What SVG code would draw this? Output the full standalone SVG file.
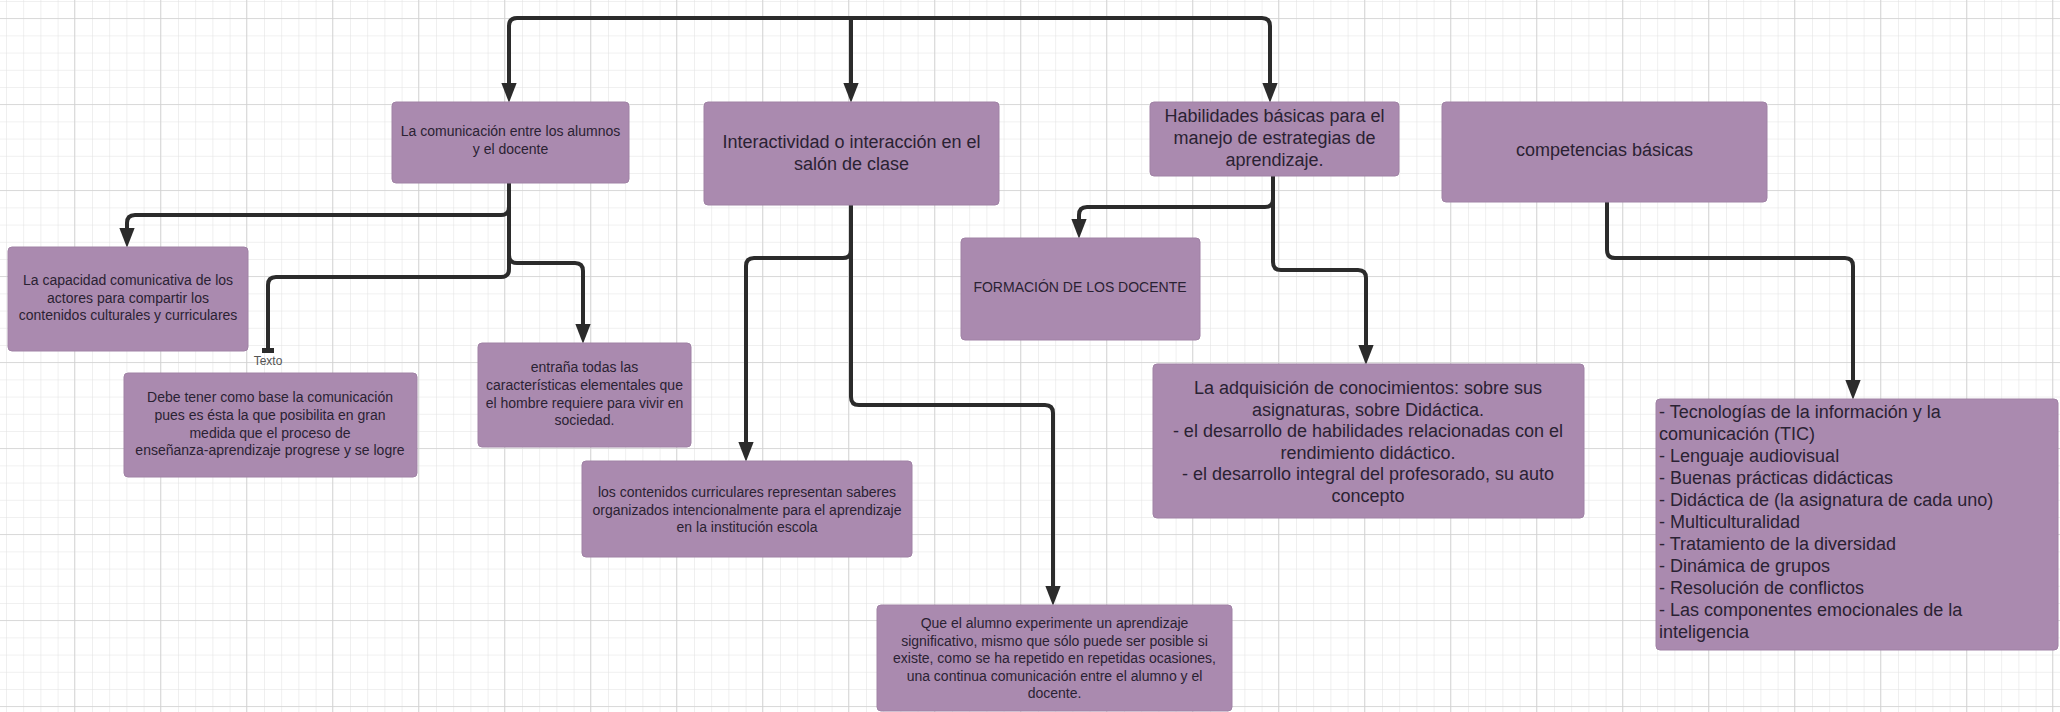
<svg xmlns="http://www.w3.org/2000/svg" width="2060" height="712" viewBox="0 0 2060 712">
<defs>
<pattern id="minor" width="17.2" height="17.2" patternUnits="userSpaceOnUse" x="6" y="1">
<path d="M0,0 H17.2 M0,0 V17.2" fill="none" stroke="#e1e1e1" stroke-width="1"/>
</pattern>
<pattern id="major" width="86" height="86" patternUnits="userSpaceOnUse" x="74" y="18">
<path d="M0,0 H86 M0,0 V86" fill="none" stroke="#d2d2d2" stroke-width="1.5"/>
</pattern>
<marker id="arr" markerUnits="userSpaceOnUse" markerWidth="20" markerHeight="16" viewBox="0 0 18 14" refX="12" refY="7" orient="auto">
<path d="M0,0 L18,7 L0,14 z" fill="#2b2b2b"/>
</marker>
</defs>
<style>
.box{fill:#aa8aaf;stroke:#a082a5;stroke-width:1}
.t{font-family:"Liberation Sans",Arial,sans-serif;fill:#2a2233;text-anchor:middle}
.s{font-size:14px}
.b{font-size:18px}
.l{text-anchor:start}
.c{fill:none;stroke:#2b2b2b;stroke-width:4;stroke-linejoin:round}
.lbl{font-family:"Liberation Sans",Arial,sans-serif;font-size:12px;fill:#555555;text-anchor:middle}
</style>
<rect width="2060" height="712" fill="#ffffff"/>
<rect width="2060" height="712" fill="url(#minor)"/>
<rect width="2060" height="712" fill="url(#major)"/>

<g id="connectors">
<path class="c" d="M851,18 H517 Q509,18 509,26 V96" marker-end="url(#arr)"/>
<path class="c" d="M851,18 V96" marker-end="url(#arr)"/>
<path class="c" d="M851,18 H1262 Q1270,18 1270,26 V96" marker-end="url(#arr)"/>
<path class="c" d="M509,183 V207 Q509,215 501,215 H135 Q127,215 127,223 V241" marker-end="url(#arr)"/>
<path class="c" d="M509,183 V269 Q509,277 501,277 H276 Q268,277 268,285 V350"/>
<rect x="262" y="348" width="12" height="5" fill="#2b2b2b"/>
<path class="c" d="M509,255 Q509,263 517,263 H575 Q583,263 583,271 V337" marker-end="url(#arr)"/>
<path class="c" d="M851,205 V250 Q851,258 843,258 H754 Q746,258 746,266 V455" marker-end="url(#arr)"/>
<path class="c" d="M851,205 V397 Q851,405 859,405 H1045 Q1053,405 1053,413 V599" marker-end="url(#arr)"/>
<path class="c" d="M1273,176 V199 Q1273,207 1265,207 H1087 Q1079,207 1079,215 V232" marker-end="url(#arr)"/>
<path class="c" d="M1273,176 V262 Q1273,270 1281,270 H1358 Q1366,270 1366,278 V358" marker-end="url(#arr)"/>
<path class="c" d="M1607,202 V250 Q1607,258 1615,258 H1845 Q1853,258 1853,266 V393" marker-end="url(#arr)"/>
<text class="lbl" x="268" y="365">Texto</text>
</g>

<g id="n1">
<rect class="box" x="392" y="102" width="237" height="81" rx="4"/>
<text class="t s" x="510.5" y="136">La comunicación entre los alumnos</text>
<text class="t s" x="510.5" y="154">y el docente</text>
</g>
<g id="n2">
<rect class="box" x="704" y="102" width="295" height="103" rx="4"/>
<text class="t b" x="851.5" y="148">Interactividad o interacción en el</text>
<text class="t b" x="851.5" y="170">salón de clase</text>
</g>
<g id="n3">
<rect class="box" x="1150" y="102" width="249" height="74" rx="4"/>
<text class="t b" x="1274.5" y="122">Habilidades básicas para el</text>
<text class="t b" x="1274.5" y="144">manejo de  estrategias de</text>
<text class="t b" x="1274.5" y="166">aprendizaje.</text>
</g>
<g id="n4">
<rect class="box" x="1442" y="102" width="325" height="100" rx="4"/>
<text class="t b" x="1604.5" y="156">competencias básicas</text>
</g>
<g id="n5">
<rect class="box" x="8" y="247" width="240" height="104" rx="4"/>
<text class="t s" x="128" y="285">La capacidad comunicativa de los</text>
<text class="t s" x="128" y="303">actores para compartir los</text>
<text class="t s" x="128" y="320">contenidos culturales y curriculares</text>
</g>
<g id="n6">
<rect class="box" x="124" y="373" width="293" height="104" rx="4"/>
<text class="t s" x="270" y="402">Debe tener como base la comunicación</text>
<text class="t s" x="270" y="420">pues es ésta la que posibilita en gran</text>
<text class="t s" x="270" y="438">medida que el proceso de</text>
<text class="t s" x="270" y="455">enseñanza-aprendizaje progrese y se logre</text>
</g>
<g id="n7">
<rect class="box" x="478" y="343" width="213" height="104" rx="4"/>
<text class="t s" x="584.5" y="372">entraña todas las</text>
<text class="t s" x="584.5" y="390">características elementales que</text>
<text class="t s" x="584.5" y="408">el hombre requiere para vivir en</text>
<text class="t s" x="584.5" y="425">sociedad.</text>
</g>
<g id="n8">
<rect class="box" x="582" y="461" width="330" height="96" rx="4"/>
<text class="t s" x="747" y="497">los contenidos curriculares representan saberes</text>
<text class="t s" x="747" y="515">organizados intencionalmente para el aprendizaje</text>
<text class="t s" x="747" y="532">en la institución escola</text>
</g>
<g id="n9">
<rect class="box" x="877" y="605" width="355" height="106" rx="4"/>
<text class="t s" x="1054.5" y="628">Que el alumno experimente un aprendizaje</text>
<text class="t s" x="1054.5" y="646">significativo, mismo que sólo puede ser posible si</text>
<text class="t s" x="1054.5" y="663">existe, como se ha repetido en repetidas ocasiones,</text>
<text class="t s" x="1054.5" y="681">una continua comunicación entre el alumno y el</text>
<text class="t s" x="1054.5" y="698">docente.</text>
</g>
<g id="n10">
<rect class="box" x="961" y="238" width="239" height="102" rx="4"/>
<text class="t s" x="1080" y="292">FORMACIÓN DE LOS DOCENTE</text>
</g>
<g id="n11">
<rect class="box" x="1153" y="364" width="431" height="154" rx="4"/>
<text class="t b" x="1368" y="394">La adquisición de conocimientos: sobre sus</text>
<text class="t b" x="1368" y="415.6">asignaturas, sobre Didáctica.</text>
<text class="t b" x="1368" y="437.2">- el desarrollo de habilidades relacionadas con el</text>
<text class="t b" x="1368" y="458.8">rendimiento didáctico.</text>
<text class="t b" x="1368" y="480.4">- el desarrollo integral del profesorado, su auto</text>
<text class="t b" x="1368" y="502">concepto</text>
</g>
<g id="n12">
<rect class="box" x="1656" y="399" width="402" height="251" rx="4"/>
<text class="t b l" x="1659" y="418">- Tecnologías de la información y la</text>
<text class="t b l" x="1659" y="440">comunicación (TIC)</text>
<text class="t b l" x="1659" y="462">- Lenguaje audiovisual</text>
<text class="t b l" x="1659" y="484">- Buenas prácticas didácticas</text>
<text class="t b l" x="1659" y="506">- Didáctica de (la asignatura de cada uno)</text>
<text class="t b l" x="1659" y="528">- Multiculturalidad</text>
<text class="t b l" x="1659" y="550">- Tratamiento de la diversidad</text>
<text class="t b l" x="1659" y="572">- Dinámica de grupos</text>
<text class="t b l" x="1659" y="594">- Resolución de conflictos</text>
<text class="t b l" x="1659" y="616">- Las componentes emocionales de la</text>
<text class="t b l" x="1659" y="638">inteligencia</text>
</g>
</svg>
